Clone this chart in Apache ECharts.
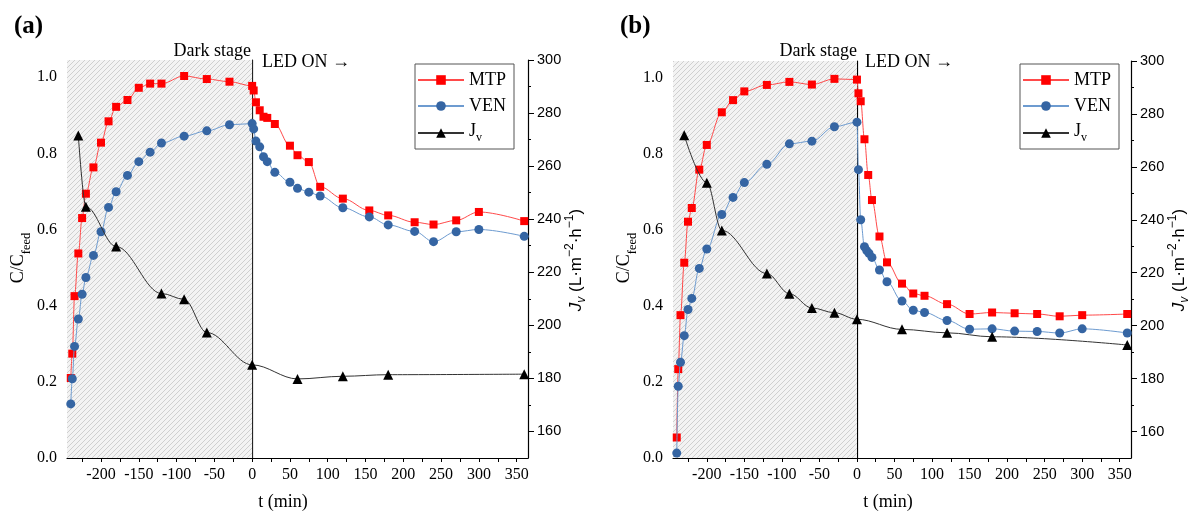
<!DOCTYPE html>
<html>
<head>
<meta charset="utf-8">
<script src="https://cdn.jsdelivr.net/npm/echarts@6/dist/echarts.min.js"></script>
<style>
html,body{margin:0;padding:0;background:#fff;}
#c{width:1189px;height:511px;}
</style>
</head>
<body>
<div id="c"></div>
<script>
// ---------- data ----------
const tA = [-240,-238,-235,-230,-225,-220,-210,-200,-190,-180,-165,-150,-135,-120,-90,-60,-30,0,2,5,10,15,20,30,50,60,75,90,120,155,180,215,240,270,300,360];
const mtpA = [0.21,0.274,0.425,0.537,0.63,0.694,0.763,0.828,0.884,0.922,0.94,0.972,0.983,0.983,1.003,0.995,0.988,0.977,0.965,0.934,0.913,0.896,0.893,0.877,0.82,0.795,0.777,0.712,0.681,0.65,0.637,0.619,0.613,0.624,0.646,0.622];
const venA = [0.142,0.208,0.293,0.365,0.43,0.474,0.532,0.594,0.658,0.699,0.742,0.778,0.803,0.827,0.845,0.859,0.875,0.878,0.864,0.832,0.817,0.791,0.778,0.75,0.724,0.708,0.698,0.688,0.657,0.633,0.612,0.595,0.568,0.594,0.6,0.582];
const tJA = [-230,-220,-180,-120,-90,-60,0,60,120,180,360];
const jvA = [271.5,244.7,229.7,212,209.8,197.3,185.1,179.8,180.8,181.4,181.6];

const tMtpB = [-240,-238,-235,-230,-225,-220,-210,-200,-180,-165,-150,-120,-90,-60,-30,0,2,5,10,15,20,30,40,60,75,90,120,150,180,210,240,270,300,360];
const mtpB = [0.054,0.234,0.376,0.514,0.622,0.658,0.759,0.824,0.91,0.942,0.965,0.982,0.99,0.983,0.998,0.996,0.96,0.939,0.839,0.745,0.679,0.583,0.515,0.459,0.433,0.427,0.405,0.379,0.383,0.381,0.379,0.373,0.376,0.379];
const tVenB = [-240,-238,-235,-230,-225,-220,-210,-200,-180,-165,-150,-120,-90,-60,-30,0,2,5,10,13,16,20,30,40,60,75,90,120,150,180,210,240,270,300,360];
const venB = [0.013,0.189,0.252,0.322,0.391,0.42,0.499,0.55,0.641,0.686,0.725,0.773,0.827,0.834,0.872,0.884,0.759,0.627,0.556,0.546,0.539,0.528,0.495,0.464,0.413,0.389,0.383,0.362,0.339,0.34,0.334,0.333,0.329,0.34,0.329];
const tJB = [-230,-200,-180,-120,-90,-60,-30,0,60,120,180,360];
const jvB = [271.9,254,236,219.7,212.1,206.7,204.9,202.4,198.6,197.3,195.8,192.7];

// ---------- ticks ----------
const xLabels = [-200,-150,-100,-50,0,50,100,150,200,250,300,350];
const xTicks = [-225,-200,-175,-150,-125,-100,-75,-50,-25,0,25,50,75,100,125,150,175,200,225,250,275,300,325,350];
const yLeftLabels = [0,0.2,0.4,0.6,0.8,1.0];
const yZeroTicks = [0.1,0.2,0.3,0.4,0.5,0.6,0.7,0.8,0.9,1.0];
const yRightLabels = [160,180,200,220,240,260,280,300];
const yRightMinor = [170,190,210,230,250,270,290];

const seriesNames = ['MTP','VEN','Jv'];

// ---------- style ----------
const SERIF = '"Liberation Serif", "Times New Roman", serif';
const SANS = '"Liberation Sans", Arial, sans-serif';
const X_MIN = -245, X_MAX = 365, YL_MAX = 1.045, YR_MIN = 150, YR_MAX = 300;

const hatch = (function(){
  const c = document.createElement('canvas');
  c.width = 5; c.height = 5;
  const g = c.getContext('2d');
  g.fillStyle = '#f3f3f3'; g.fillRect(0,0,5,5);
  g.strokeStyle = '#cfcfcf'; g.lineWidth = 1;
  g.beginPath();
  g.moveTo(0,5); g.lineTo(5,0);
  g.moveTo(-1,1); g.lineTo(1,-1);
  g.moveTo(4,6); g.lineTo(6,4);
  g.stroke();
  return c;
})();

const zip = (xs, ys) => xs.map((x, i) => [x, ys[i]]);

function panel(i, g, d) {
  const yb = i * 4;
  const grid = { left: g.left, top: g.top, width: g.width, height: g.height, containLabel: false };
  const xAxis = {
    type: 'value', gridIndex: i, min: X_MIN, max: X_MAX,
    axisLine: { show: true, onZero: false, lineStyle: { color: '#000', width: 1.2 } },
    axisTick: { show: true, customValues: xTicks, length: 4, lineStyle: { color: '#000' } },
    axisLabel: { customValues: xLabels, margin: 9, color: '#000', fontFamily: SERIF, fontSize: 16 },
    splitLine: { show: false }
  };
  const yAxes = [
    { type: 'value', gridIndex: i, position: 'left', min: 0, max: YL_MAX,
      axisLine: { show: false, onZero: false }, axisTick: { show: false },
      axisLabel: { customValues: yLeftLabels, margin: 10, color: '#000', fontFamily: SERIF, fontSize: 16,
        formatter: v => v.toFixed(1) },
      splitLine: { show: false } },
    { type: 'value', gridIndex: i, position: 'right', min: YR_MIN, max: YR_MAX,
      axisLine: { show: true, onZero: false, lineStyle: { color: '#000', width: 1.2 } },
      axisTick: { show: true, customValues: yRightLabels, length: 6, lineStyle: { color: '#000' } },
      axisLabel: { customValues: yRightLabels, margin: 9, color: '#000', fontFamily: SANS, fontSize: 14.5 },
      splitLine: { show: false } },
    { type: 'value', gridIndex: i, position: 'left', min: 0, max: YL_MAX,
      axisLine: { show: true, onZero: true, lineStyle: { color: '#000', width: 1.2 } },
      axisTick: { show: true, customValues: yZeroTicks, length: 5, lineStyle: { color: '#000' } },
      axisLabel: { show: false, customValues: yZeroTicks },
      splitLine: { show: false } },
    { type: 'value', gridIndex: i, position: 'right', min: YR_MIN, max: YR_MAX,
      axisLine: { show: false, onZero: false },
      axisTick: { show: true, customValues: yRightMinor, length: 3, lineStyle: { color: '#000' } },
      axisLabel: { show: false, customValues: yRightMinor },
      splitLine: { show: false } }
  ];
  const series = [
    { name: seriesNames[0], type: 'line', xAxisIndex: i, yAxisIndex: yb, data: zip(d.tM, d.mtp),
      smooth: 0.35, smoothMonotone: 'x', symbol: 'rect', symbolSize: 8, z: 3,
      itemStyle: { color: '#ff0000' }, lineStyle: { color: '#ff4a4a', width: 1 },
      markArea: { silent: true, itemStyle: { color: { image: hatch, repeat: 'repeat' } },
        data: [[{ xAxis: X_MIN }, { xAxis: 0 }]] } },
    { name: seriesNames[1], type: 'line', xAxisIndex: i, yAxisIndex: yb, data: zip(d.tV, d.ven),
      smooth: 0.35, smoothMonotone: 'x', symbol: 'circle', symbolSize: 9, z: 4,
      itemStyle: { color: '#3565a3' }, lineStyle: { color: '#6d9bd0', width: 1 } },
    { name: seriesNames[2], type: 'line', xAxisIndex: i, yAxisIndex: yb + 1, data: zip(d.tJ, d.jv),
      smooth: 0.35, smoothMonotone: 'x', symbol: 'triangle', symbolSize: 10, z: 5,
      itemStyle: { color: '#000' }, lineStyle: { color: '#333', width: 1 } }
  ];
  const legend = {
    data: seriesNames, left: g.legendLeft, top: 64, orient: 'vertical',
    backgroundColor: '#fff', borderColor: '#555', borderWidth: 1,
    padding: [6, 8, 5, 2], itemWidth: 46, itemHeight: 12, itemGap: 6,
    selectedMode: false,
    textStyle: { color: '#000', fontFamily: SERIF, fontSize: 18, lineHeight: 20,
      rich: {
        j: { fontFamily: SERIF, fontSize: 18, lineHeight: 22, verticalAlign: 'top', color: '#000' },
        s: { fontFamily: SERIF, fontSize: 12, lineHeight: 11, verticalAlign: 'bottom', color: '#000' }
      } },
    formatter: n => n === 'Jv' ? '{j|J}{s|v}' : n
  };
  return { grid, xAxis, yAxes, series, legend };
}

const pA = panel(0, { left: 67, top: 60, width: 461, height: 398, legendLeft: 415 },
  { tM: tA, mtp: mtpA, tV: tA, ven: venA, tJ: tJA, jv: jvA });
const pB = panel(1, { left: 673, top: 61, width: 458, height: 397, legendLeft: 1020 },
  { tM: tMtpB, mtp: mtpB, tV: tVenB, ven: venB, tJ: tJB, jv: jvB });

function labelTexts(p) {
  const base = { fill: '#000' };
  return [
    { type: 'text', x: p.tagX, y: 14, z: 100, style: Object.assign({ text: p.tag, font: 'bold 25px ' + SERIF }, base) },
    { type: 'text', x: p.zeroX, y: 51, z: 100, style: Object.assign({ text: 'Dark stage', font: '18px ' + SERIF, align: 'right', verticalAlign: 'middle' }, base) },
    { type: 'text', x: p.ledX, y: 62, z: 100, style: Object.assign({ text: 'LED ON →', font: '18px ' + SERIF, align: 'left', verticalAlign: 'middle' }, base) },
    { type: 'text', x: p.xTitleX, y: 502, z: 100, style: Object.assign({ text: 't (min)', font: '18px ' + SERIF, align: 'center', verticalAlign: 'middle' }, base) },
    { type: 'text', x: p.yLX, y: 258, rotation: Math.PI / 2, z: 100, style: {
        text: '{a|C/C}{b|feed}', align: 'center', verticalAlign: 'middle',
        rich: {
          a: { fontFamily: SERIF, fontSize: 18, lineHeight: 24, verticalAlign: 'top', fill: '#000', color: '#000' },
          b: { fontFamily: SERIF, fontSize: 12.5, lineHeight: 12, verticalAlign: 'bottom', fill: '#000', color: '#000' }
        } } },
    { type: 'text', x: p.yRX, y: 260, rotation: Math.PI / 2, z: 100, style: {
        text: '{i|J}{iv|v}{n| (L·m}{sup|−2}{n|·h}{sup|−1}{n|)}', align: 'center', verticalAlign: 'middle',
        rich: {
          i: { fontFamily: SANS, fontSize: 17, fontStyle: 'italic', lineHeight: 24, verticalAlign: 'middle', color: '#000' },
          iv: { fontFamily: SANS, fontSize: 12, fontStyle: 'italic', lineHeight: 11, verticalAlign: 'bottom', color: '#000' },
          n: { fontFamily: SANS, fontSize: 17, lineHeight: 24, verticalAlign: 'middle', color: '#000' },
          sup: { fontFamily: SANS, fontSize: 12, lineHeight: 12, verticalAlign: 'top', color: '#000' }
        } } }
  ];
}

const option = {
  animation: false,
  backgroundColor: '#fff',
  grid: [pA.grid, pB.grid],
  xAxis: [pA.xAxis, pB.xAxis],
  yAxis: pA.yAxes.concat(pB.yAxes),
  series: pA.series.concat(pB.series),
  legend: [pA.legend, pB.legend],
  graphic: labelTexts({ tag: '(a)', tagX: 14, zeroX: 251, ledX: 262, xTitleX: 283, yLX: 21, yRX: 576 })
    .concat(labelTexts({ tag: '(b)', tagX: 620, zeroX: 857, ledX: 865, xTitleX: 888, yLX: 627, yRX: 1179 }))
};

const chart = echarts.init(document.getElementById('c'), null, { renderer: 'canvas' });
chart.setOption(option);
</script>
</body>
</html>
